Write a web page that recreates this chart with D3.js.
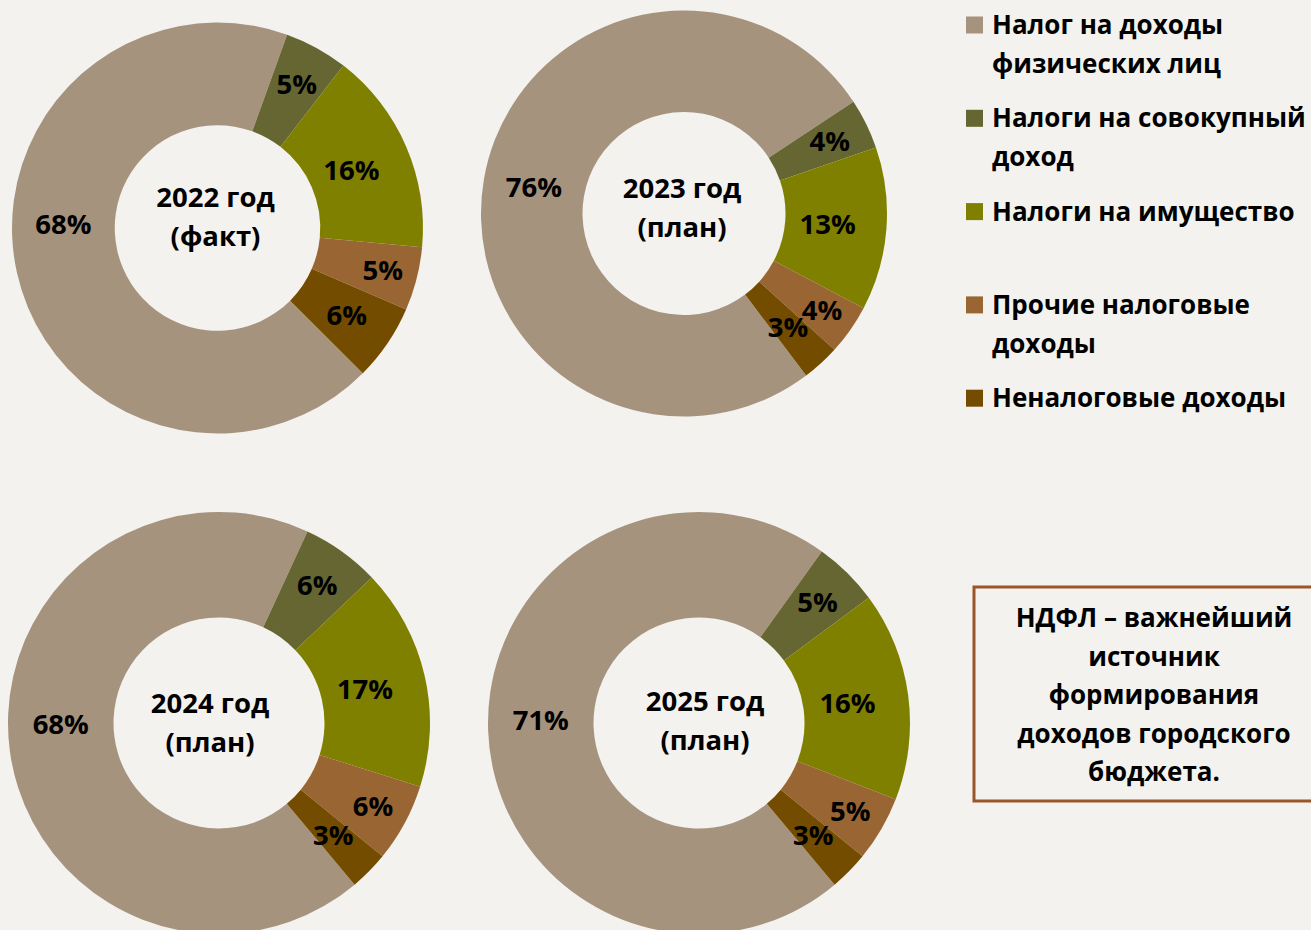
<!DOCTYPE html>
<html>
<head>
<meta charset="utf-8">
<script src="https://cdn.jsdelivr.net/npm/d3@7"></script>
<style>
  body { margin: 0; background: #f3f2ee; }
  svg text { font-family: "Open Sans", "Noto Sans", sans-serif; font-weight: bold; fill: #000; }
</style>
</head>
<body>
<div id="mainDiv"></div>
<script>

// categories of budget income (legend order = slice order)
var categories = ["Налог на доходы физических лиц", "Налоги на совокупный доход",
                  "Налоги на имущество", "Прочие налоговые доходы", "Неналоговые доходы"];

// legend text as it wraps in the picture
var legendLines = [["Налог на доходы", "физических лиц"], ["Налоги на совокупный", "доход"],
                   ["Налоги на имущество"], ["Прочие налоговые", "доходы"], ["Неналоговые доходы"]];

var years = ["2022 год", "2023 год", "2024 год", "2025 год"];
var yearNotes = ["(факт)", "(план)", "(план)", "(план)"];

// shares, %
var share2022 = [68, 5, 16, 5, 6];
var share2023 = [76, 4, 13, 4, 3];
var share2024 = [68, 6, 17, 6, 3];
var share2025 = [71, 5, 16, 5, 3];

var sliceColors = ["#a5937e", "#666633", "#808000", "#996633", "#744c00"];

var noteLines = ["НДФЛ – важнейший", "источник", "формирования", "доходов городского", "бюджета."];

// layout of the four donuts
var donutCenters = [[217.5, 228], [684, 213.5], [219, 723], [699, 723]];
var donutRadius = [205.5, 203, 211, 211];
var firstSliceAngle = [135, 143, 140, 140]; // degrees, clockwise from top
var bigLabelNudge = [14, 0, 7, 3];           // degrees
var labelRadius = [0.75, 0.80, 0.71, 0.83, 0.76]; // share of outer radius, per series
var titleOffset = [[-2, -31], [-2, -25], [-9, -20], [6, -22]];

var width = 1311, height = 930;
var labelSize = 27.5;

function drawDonut(canvas, values, idx){

    var c = donutCenters[idx];
    var r = donutRadius[idx];
    var a0 = firstSliceAngle[idx] * Math.PI / 180;

    var pie = d3.pie().sort(null).value(function(d){ return d; })
                .startAngle(a0).endAngle(a0 + 2 * Math.PI);
    var arc = d3.arc().innerRadius(r * 0.5).outerRadius(r);

    var g = canvas.append("g").attr("transform", "translate(" + c[0] + "," + c[1] + ")")
                .attr("id", "donut_" + idx);

    var slices = pie(values);

    g.selectAll("path").data(slices).enter().append("path")
        .attr("d", arc)
        .attr("fill", function(d, i){ return sliceColors[i]; });

    // data labels inside each ring piece
    g.selectAll("text.pct").data(slices).enter().append("text")
        .attr("class", "pct")
        .attr("text-anchor", "middle").attr("dy", "0.35em")
        .style("font-size", labelSize + "px")
        .attr("transform", function(d, i){
            var mid = (d.startAngle + d.endAngle) / 2;
            if (i == 0) mid += bigLabelNudge[idx] * Math.PI / 180;
            var rr = r * labelRadius[i];
            return "translate(" + (rr * Math.sin(mid)) + "," + (-rr * Math.cos(mid)) + ")";
        })
        .text(function(d){ return d.data + "%"; });

    // title in the hole
    var t = titleOffset[idx];
    g.append("text").attr("text-anchor", "middle").attr("x", t[0]).attr("y", t[1]).attr("dy", "0.35em")
        .style("font-size", labelSize + "px").text(years[idx]);
    g.append("text").attr("text-anchor", "middle").attr("x", t[0]).attr("y", t[1] + 39).attr("dy", "0.35em")
        .style("font-size", labelSize + "px").text(yearNotes[idx]);
}

function drawLegend(canvas){

    var lg = canvas.append("g").attr("id", "legend");
    for (var i = 0; i < categories.length; i++){
        var y0 = 25 + 93.3 * i;
        lg.append("rect").attr("x", 966).attr("y", y0 - 8.5).attr("width", 17).attr("height", 17)
            .attr("fill", sliceColors[i]);
        for (var j = 0; j < legendLines[i].length; j++){
            lg.append("text").attr("x", 992).attr("y", y0 + 39 * j).attr("dy", "0.35em")
                .style("font-size", "26px").text(legendLines[i][j]);
        }
    }
}

function drawNote(canvas){

    var ng = canvas.append("g").attr("id", "note");
    ng.append("rect").attr("x", 974).attr("y", 587).attr("width", 345).attr("height", 214)
        .attr("fill", "none").attr("stroke", "#9c5529").attr("stroke-width", 3);
    for (var i = 0; i < noteLines.length; i++){
        ng.append("text").attr("x", 1154).attr("y", 618 + 38.5 * i).attr("dy", "0.35em")
            .attr("text-anchor", "middle").style("font-size", "26px").text(noteLines[i]);
    }
}

var gameCanvas = d3.select("#mainDiv").append("svg")
        .attr("width", width).attr("height", height).attr("id", "mainCanvas");

gameCanvas.append("rect").attr("width", width).attr("height", height).attr("fill", "#f3f2ee");

var allShares = [share2022, share2023, share2024, share2025];
for (var k = 0; k < allShares.length; k++){
    drawDonut(gameCanvas, allShares[k], k);
}

drawLegend(gameCanvas);
drawNote(gameCanvas);

</script>
</body>
</html>
